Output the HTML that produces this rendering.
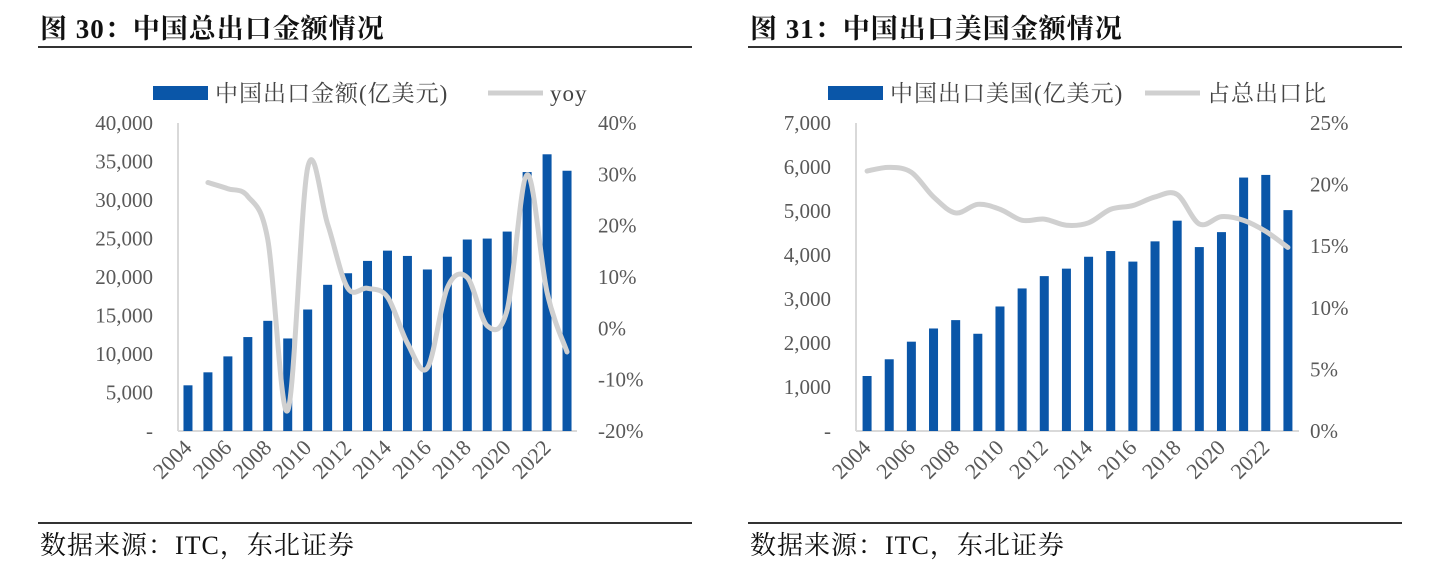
<!DOCTYPE html>
<html><head><meta charset="utf-8">
<style>
body{margin:0;width:1440px;height:571px;background:#fff;overflow:hidden;font-family:"Liberation Serif","Noto Serif CJK SC",serif;}
.t{position:absolute;font-weight:bold;font-size:27px;letter-spacing:1px;color:#111;font-family:"Liberation Serif","Noto Serif CJK SC",serif;line-height:32px;}
.rule{position:absolute;height:1.5px;background:#333;}
.src{position:absolute;font-size:26px;letter-spacing:1px;color:#111;line-height:32px;}
</style></head><body>
<div class="t" style="left:40px;top:13px">图 30：中国总出口金额情况</div>
<div class="rule" style="left:38px;top:46px;width:654px"></div>
<div class="t" style="left:750px;top:13px">图 31：中国出口美国金额情况</div>
<div class="rule" style="left:748px;top:46px;width:654px"></div>
<div class="rule" style="left:38px;top:522px;width:654px"></div>
<div class="rule" style="left:748px;top:522px;width:654px"></div>
<div class="src" style="left:40px;top:530px">数据来源：ITC，东北证券</div>
<div class="src" style="left:750px;top:530px">数据来源：ITC，东北证券</div>
<svg id="c" width="1440" height="571" style="position:absolute;left:0;top:0"></svg>
<script>
const years=[2004,2005,2006,2007,2008,2009,2010,2011,2012,2013,2014,2015,2016,2017,2018,2019,2020,2021,2022,2023];
const xTickLabels=["2004","2006","2008","2010","2012","2014","2016","2018","2020","2022"];
const exportTotal=[5933,7620,9690,12200,14307,12016,15778,18984,20487,22090,23423,22735,20976,22633,24867,24990,25900,33630,35936,33800];
const exportYoy=[null,28.4,27.2,25.7,17.3,-16,31.3,20.3,7.9,7.8,6.1,-2.9,-7.7,7.9,9.9,0.5,3.6,29.9,7.0,-4.6];
const leftTicks=["-","5,000","10,000","15,000","20,000","25,000","30,000","35,000","40,000"];
const leftPctTicks=["-20%","-10%","0%","10%","20%","30%","40%"];
const exportUS=[1250,1630,2030,2330,2520,2210,2830,3240,3520,3690,3960,4090,3850,4310,4780,4180,4520,5760,5820,5020];
const usShare=[21.1,21.4,21.0,19.0,17.7,18.4,18.0,17.1,17.2,16.7,16.9,18.0,18.3,19.0,19.2,16.8,17.4,17.1,16.2,14.9];
const rightTicks=["-","1,000","2,000","3,000","4,000","5,000","6,000","7,000"];
const rightPctTicks=["0%","5%","10%","15%","20%","25%"];
const NS="http://www.w3.org/2000/svg";
const svg=document.getElementById('c');
function mk(t,a,p){const e=document.createElementNS(NS,t);for(const k in a)e.setAttribute(k,a[k]);(p||svg).appendChild(e);return e;}
function txt(x,y,s,anchor,extra){const e=mk('text',Object.assign({x:x,y:y,'font-size':21,fill:'#595959','text-anchor':anchor,'font-family':'"Liberation Serif","Noto Serif CJK SC",serif'},extra||{}));e.textContent=s;return e;}
function chart(o){
  const g=mk('g',{});
  
  
  const n=years.length,cw=(o.x1-o.x0)/n;
  const xc=i=>o.x0+cw*(i+0.5);
  const yL=v=>o.yb-(v/o.lmax)*(o.yb-o.yt);
  const yR=v=>o.yb-((v-o.rmin)/(o.rmax-o.rmin))*(o.yb-o.yt);
  const ax=mk('line',{x1:o.x0,y1:o.yt,x2:o.x0,y2:o.yb,stroke:'#d9d9d9','stroke-width':2},g);
  
  const bx=mk('line',{x1:o.x0,y1:o.yb,x2:o.x1,y2:o.yb,stroke:'#d9d9d9','stroke-width':2},g);
  
  o.lt.forEach((s,i)=>{const v=i*o.lmax/(o.lt.length-1);const t=txt(o.x0-25,yL(v)+7,s,'end');});
  o.rt.forEach((s,i)=>{const v=o.rmin+i*(o.rmax-o.rmin)/(o.rt.length-1);const t=txt(o.rx,yR(v)+7,s,'start');});
  o.bars.forEach((v,i)=>{const r=mk('rect',{x:xc(i)-4.5,y:yL(v),width:9,height:o.yb-yL(v),fill:'#0a56a8'},g);});
  const pts=[];o.line.forEach((v,i)=>{if(v!==null)pts.push([xc(i),yR(v)]);});
  let d='M'+pts[0][0]+','+pts[0][1];
  for(let i=1;i<pts.length;i++){const p0=pts[i-2]||pts[i-1],p1=pts[i-1],p2=pts[i],p3=pts[i+1]||p2;
    const c1=[p1[0]+(p2[0]-p0[0])/6,p1[1]+(p2[1]-p0[1])/6],c2=[p2[0]-(p3[0]-p1[0])/6,p2[1]-(p3[1]-p1[1])/6];
    d+=' C'+c1+' '+c2+' '+p2;}
  const l=mk('path',{d:d,fill:'none',stroke:'#d0d0d0','stroke-width':5,'stroke-linecap':'round'},g);
  
  xTickLabels.forEach((s,k)=>{const i=years.indexOf(+s);const x=xc(i)+5,y=o.yb+18;
    const t=txt(x,y,s,'end',{transform:'rotate(-45 '+x+' '+y+')','font-size':22});});
  const lr=mk('rect',{x:o.lgx,y:86,width:55,height:14,fill:'#0a56a8'},g);
  const lt=txt(o.lgx+62,101,o.barLabel,'start',{fill:'#444','font-size':23,'letter-spacing':1});
  const ll=mk('line',{x1:o.lgx2,y1:93,x2:o.lgx2+55,y2:93,stroke:'#d0d0d0','stroke-width':5},g);
  const lt2=txt(o.lgx2+62,101,o.lineLabel,'start',{fill:'#444','font-size':23,'letter-spacing':1});
}
chart({name:'china-total-export-chart',x0:178,x1:577,yt:123,yb:431,lmax:40000,rmin:-20,rmax:40,lt:leftTicks,rt:leftPctTicks,rx:598,bars:exportTotal,line:exportYoy,lgx:153,lgx2:488,barLabel:'中国出口金额(亿美元)',lineLabel:'yoy'});
chart({name:'china-us-export-chart',x0:856,x1:1299,yt:123,yb:431,lmax:7000,rmin:0,rmax:25,lt:rightTicks,rt:rightPctTicks,rx:1310,bars:exportUS,line:usShare,lgx:828,lgx2:1145,barLabel:'中国出口美国(亿美元)',lineLabel:'占总出口比'});
</script>
</body></html>
